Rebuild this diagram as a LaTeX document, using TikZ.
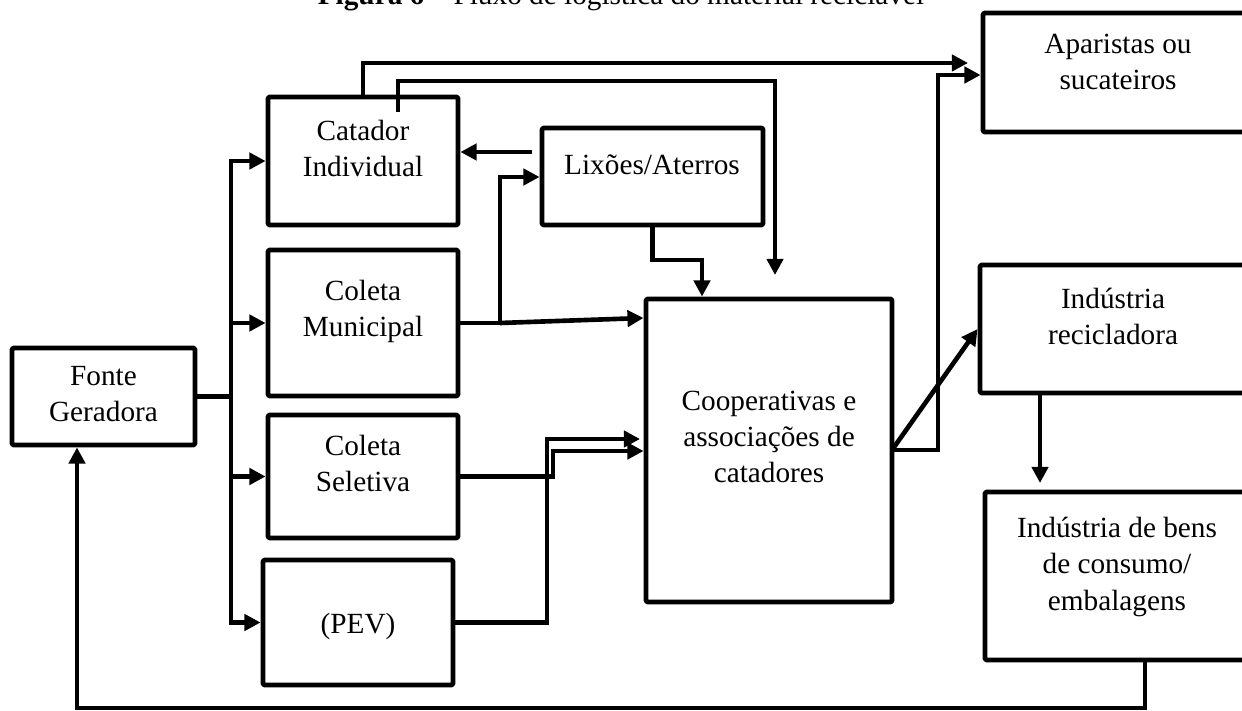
\documentclass[tikz,border=0pt]{standalone}
\usepackage{fontspec}
\setmainfont{Liberation Serif}
\usetikzlibrary{arrows.meta,fit}

\begin{document}
\begin{tikzpicture}[x=0.41pt,y=-0.41pt,
  box/.style={draw, line width=2pt, inner sep=0pt, line join=round, rounded corners=0.6pt},
  lbl/.style={align=center, font=\fontsize{12}{14.8}\selectfont, anchor=base, inner sep=0pt},
  link/.style={line width=1.9pt, line join=miter},
  flow/.style={link, -{Triangle[length=6.6pt,width=6.6pt]}},
]
\useasboundingbox (0,0) rectangle (1242,711);

% caption of the figure
\node[lbl] (title) at (621,5) {\textbf{Figura 6} – Fluxo de logística do material reciclável};

% boxes
\node[box, fit={(12,348)(195,445)}]   (fonte) {};
\node[box, fit={(268,97)(458,225)}]   (catador) {};
\node[box, fit={(268,250)(458,396)}]  (municipal) {};
\node[box, fit={(268,415)(458,538)}]  (seletiva) {};
\node[box, fit={(263,560)(453,685)}]  (pev) {};
\node[box, fit={(542,128)(763,225)}]  (lixoes) {};
\node[box, fit={(646,299)(892,602)}]  (coop) {};
\node[box, fit={(983,13)(1252,132)}]  (aparistas) {};
\node[box, fit={(980,265)(1252,393)}] (recicl) {};
\node[box, fit={(985,492)(1252,660)}] (bens) {};

% box texts (anchored at the baseline of their last line)
\node[lbl] (fonte-t)     at (103.5,422) {Fonte\\Geradora};
\node[lbl] (catador-t)   at (363,177)   {Catador\\Individual};
\node[lbl] (municipal-t) at (363,337)   {Coleta\\Municipal};
\node[lbl] (seletiva-t)  at (363,492)   {Coleta\\Seletiva};
\node[lbl] (pev-t)       at (358,633)   {(PEV)};
\node[lbl] (lixoes-t)    at (652,175)   {Lixões/Aterros};
\node[lbl] (coop-t)      at (769,483)   {Cooperativas e\\associações de\\catadores};
\node[lbl] (aparistas-t) at (1118,90)   {Aparistas ou\\sucateiros};
\node[lbl] (recicl-t)    at (1113,345)  {Indústria\\recicladora};
\node[lbl] (bens-t)      at (1117,610)  {Indústria de bens\\de consumo/\\embalagens};

% junction points of the connectors
\coordinate (split)  at (231,396.5);
\coordinate (mbr)    at (500,323);
\coordinate (c2s)    at (398,112);
\coordinate (c2e)    at (775,275);
\coordinate (c1e)    at (968,63);
\coordinate (pevend) at (640,439);
\coordinate (cout)   at (892,450);
\coordinate (bin)    at (1040,483);

% from the source to the collectors
\draw[link] (fonte.east) -- (split);
\draw[flow] (split) |- (catador.west);
\draw[flow] (split) |- (municipal.west);
\draw[flow] (split) |- (seletiva.west);
\draw[flow] (split) |- (pev.west);

% dumps and individual collectors
\draw[flow] ([xshift=-3pt]lixoes.west |- 0,152) -- (catador.east |- 0,152);
\draw[link] (municipal.east) -- (mbr);
\draw[flow] (mbr) |- (lixoes.west |- 0,177);
\draw[flow] (mbr) -- (coop.west |- 0,318);
\draw[flow] (lixoes.south) |- (702,260) -- (coop.north -| 702,0);
\draw[flow] (catador.north) |- (c1e);
\draw[flow] (c2s) -- (398,81) -| (c2e);

% selective collection and PEV
\draw[flow] (seletiva.east) -| (553,451) -- (coop.west |- 0,451);
\draw[flow] (pev.east) -| (547,439) -- (pevend);

% outputs of the cooperatives
\draw[flow] (cout) -| (938,75) -- (aparistas.west |- 0,75);
\draw[flow] (cout) -- (recicl.west);
\draw[flow] (recicl.south -| bin) -- (bin);
\draw[flow] (bens.south -| 1145,0) |- (77,708) -- (fonte.south -| 77,0);
\end{tikzpicture}
\end{document}
